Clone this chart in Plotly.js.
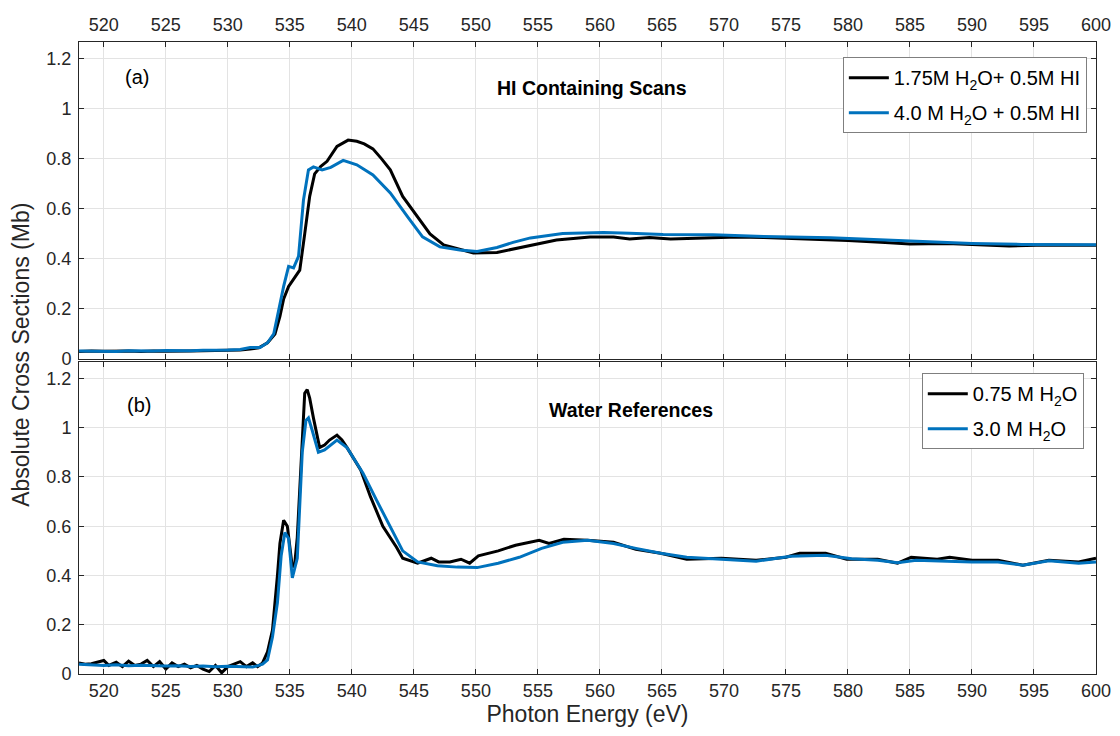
<!DOCTYPE html>
<html>
<head>
<meta charset="utf-8">
<script src="https://cdn.plot.ly/plotly-3.0.1.min.js"></script>
<style>html,body{margin:0;padding:0;background:#fff;}#chart{width:1120px;height:736px;}</style>
</head>
<body>
<div id="chart"></div>
<script>
// Panel (a): HI containing scans
const hiBlackX = [518,519,520,521,522,523,524,525,526,527,528,529,530,531,531.8,532.5,533.2,533.8,534.2,534.5,534.9,535.3,535.8,536.2,536.6,537.0,537.5,538.0,538.8,539.7,540.4,541.0,541.7,542.4,543.1,544.1,545.3,546.3,547.4,548.7,549.8,551.7,553,554.4,556.5,559.2,561.1,562.4,564,565.7,569.1,571.1,573.2,576,580,583,585,588,590,593,596,600];
const hiBlackY = [0.030,0.032,0.031,0.033,0.032,0.030,0.032,0.031,0.033,0.032,0.033,0.034,0.035,0.036,0.040,0.045,0.065,0.10,0.17,0.24,0.29,0.32,0.355,0.50,0.65,0.74,0.77,0.79,0.85,0.875,0.87,0.86,0.84,0.80,0.756,0.65,0.57,0.50,0.456,0.44,0.424,0.426,0.44,0.456,0.476,0.488,0.488,0.48,0.486,0.48,0.484,0.488,0.486,0.482,0.474,0.466,0.46,0.462,0.458,0.452,0.456,0.455];
const hiBlueX = [518,519,520,521,522,523,524,525,526,527,528,529,530,531,531.8,532.6,533.2,533.7,534.1,534.5,534.9,535.3,535.7,536.1,536.5,536.9,537.6,538.3,539.3,540.4,541.7,543.1,544.5,545.7,547.1,548.7,550.1,551.7,553,554.4,557,560.3,562.4,565.1,569.1,573.2,578.6,582,586,590,594,597,600];
const hiBlueY = [0.032,0.031,0.033,0.030,0.033,0.031,0.032,0.034,0.032,0.033,0.035,0.034,0.036,0.038,0.046,0.046,0.065,0.10,0.20,0.29,0.37,0.364,0.41,0.636,0.756,0.768,0.756,0.766,0.794,0.776,0.736,0.664,0.568,0.488,0.448,0.436,0.43,0.446,0.466,0.484,0.502,0.506,0.503,0.498,0.497,0.49,0.485,0.478,0.47,0.462,0.458,0.457,0.457];

// Panel (b): water references
const wBlackX = [518,518.5,519,519.5,520,520.4,521,521.5,522,522.5,523,523.5,524,524.5,525,525.5,526,526.5,527,527.5,528,528.5,529,529.5,530,530.5,531,531.5,532,532.4,532.8,533.2,533.6,534.0,534.2,534.5,534.8,535.2,535.4,535.6,536.0,536.2,536.4,536.6,536.9,537.4,537.8,538.2,538.8,539.2,539.6,540.2,540.7,541.5,542.5,543.6,544.1,545.3,546.4,547.0,547.9,548.8,549.5,550.2,551.8,553.2,555.1,555.9,557.1,559.0,561.1,562.9,564.9,567.0,569.8,572.6,575.0,576.1,578.2,579.9,582.4,584.0,585.1,587.2,588.2,590.0,592.1,594.1,596.2,598.6,600];
const wBlackY = [0.045,0.040,0.042,0.050,0.055,0.035,0.048,0.030,0.052,0.035,0.040,0.055,0.030,0.050,0.020,0.045,0.030,0.040,0.025,0.035,0.020,0.010,0.035,0.005,0.030,0.040,0.050,0.030,0.045,0.030,0.045,0.09,0.178,0.40,0.53,0.624,0.60,0.434,0.45,0.555,0.96,1.14,1.155,1.12,1.04,0.92,0.93,0.95,0.97,0.95,0.92,0.87,0.83,0.72,0.60,0.515,0.47,0.45,0.47,0.455,0.455,0.466,0.45,0.48,0.50,0.523,0.543,0.53,0.547,0.543,0.535,0.506,0.49,0.466,0.47,0.462,0.474,0.49,0.49,0.466,0.466,0.45,0.474,0.466,0.474,0.462,0.462,0.442,0.462,0.455,0.47];
const wBlueX = [518,519,520,521,522,523,524,525,526,527,528,529,530,531,532,532.8,533.2,533.6,534.0,534.3,534.6,534.9,535.2,535.6,536.0,536.3,536.5,536.8,537.3,537.8,538.3,538.8,539.6,540.9,542.0,543.1,544.1,545.3,546.9,548.5,550.1,551.8,553.5,555.3,557.0,559.0,561.1,562.9,564.9,567.0,569.8,572.6,575.4,578.2,580.3,582.4,584.0,585.5,588,590.0,592.1,594.1,596.2,598.6,600];
const wBlueY = [0.040,0.036,0.035,0.038,0.034,0.036,0.033,0.032,0.034,0.030,0.032,0.029,0.031,0.030,0.028,0.040,0.057,0.15,0.29,0.48,0.575,0.55,0.39,0.47,0.90,1.03,1.04,0.99,0.90,0.91,0.93,0.95,0.92,0.815,0.705,0.60,0.50,0.455,0.44,0.434,0.432,0.45,0.474,0.51,0.535,0.543,0.53,0.51,0.49,0.474,0.466,0.458,0.478,0.482,0.468,0.462,0.452,0.462,0.458,0.455,0.455,0.442,0.46,0.45,0.455];

const seriesNames = ['1.75M H<sub>2</sub>O+ 0.5M HI','4.0 M H<sub>2</sub>O + 0.5M HI','0.75 M H<sub>2</sub>O','3.0 M H<sub>2</sub>O'];
const xTicks = [520,525,530,535,540,545,550,555,560,565,570,575,580,585,590,595,600];
const yTicks = [0,0.2,0.4,0.6,0.8,1,1.2];
const yTickText = ['0','0.2','0.4','0.6','0.8','1','1.2'];

const BLACK = '#000000', BLUE = '#0072BD';
const FONT = 'Liberation Sans, Arial, sans-serif';

const traces = [
  {x: hiBlackX, y: hiBlackY, name: seriesNames[0], mode:'lines', line:{color:BLACK,width:3}, xaxis:'x', yaxis:'y', legend:'legend', legendgroup:'a1'},
  {x: hiBlueX, y: hiBlueY, name: seriesNames[1], mode:'lines', line:{color:BLUE,width:3}, xaxis:'x', yaxis:'y', legend:'legend', legendgroup:'a2'},
  {x: wBlackX, y: wBlackY, name: seriesNames[2], mode:'lines', line:{color:BLACK,width:3}, xaxis:'x2', yaxis:'y2', legend:'legend2', legendgroup:'b1'},
  {x: wBlueX, y: wBlueY, name: seriesNames[3], mode:'lines', line:{color:BLUE,width:3}, xaxis:'x2', yaxis:'y2', legend:'legend2', legendgroup:'b2'}
];

const axisCommon = {
  showline:true, linecolor:'#262626', linewidth:1, mirror:'ticks',
  ticks:'inside', ticklen:5, tickcolor:'#262626',
  showgrid:true, gridcolor:'#e3e3e3', gridwidth:1, zeroline:false,
  tickfont:{family:FONT, size:18, color:'#262626'}
};

const legendCommon = {xanchor:'right', yanchor:'top', bgcolor:'#ffffff', bordercolor:'#7f7f7f', borderwidth:1,
  traceorder:'grouped', tracegroupgap:6, itemwidth:40, font:{family:FONT, size:20, color:'#000000'}};

const layout = {
  width:1120, height:736,
  margin:{l:79, r:24, t:42, b:62},
  paper_bgcolor:'#ffffff', plot_bgcolor:'#ffffff',
  font:{family:FONT, color:'#262626'},
  xaxis: Object.assign({}, axisCommon, {range:[518,600], tickvals:xTicks, side:'top', anchor:'y', ticklabelstandoff:3}),
  yaxis: Object.assign({}, axisCommon, {range:[0,1.267], tickvals:yTicks, ticktext:yTickText, domain:[0.4984,1], anchor:'x', ticklabelstandoff:3}),
  xaxis2: Object.assign({}, axisCommon, {range:[518,600], tickvals:xTicks, side:'bottom', anchor:'y2', ticklabelstandoff:0,
    title:{text:'Photon Energy (eV)', font:{family:FONT, size:23, color:'#262626'}, standoff:6}}),
  yaxis2: Object.assign({}, axisCommon, {range:[0,1.267], tickvals:yTicks, ticktext:yTickText, domain:[0,0.4937], anchor:'x2', ticklabelstandoff:3}),
  legend: Object.assign({}, legendCommon, {x:0.991, y:0.976}),
  legend2: Object.assign({}, legendCommon, {x:0.988, y:0.476}),
  showlegend:true,
  annotations: [
    {text:'(a)', x:522.7, y:1.128, xref:'x', yref:'y', showarrow:false, font:{family:FONT, size:20, color:'#000'}},
    {text:'<b>HI Containing Scans</b>', x:559.4, y:1.084, xref:'x', yref:'y', showarrow:false, font:{family:FONT, size:19.5, color:'#000'}},
    {text:'(b)', x:522.8, y:1.094, xref:'x2', yref:'y2', showarrow:false, font:{family:FONT, size:20, color:'#000'}},
    {text:'<b>Water References</b>', x:562.5, y:1.074, xref:'x2', yref:'y2', showarrow:false, font:{family:FONT, size:19.5, color:'#000'}},
    {text:'Absolute Cross Sections (Mb)', xref:'paper', yref:'paper', x:-0.057, y:0.505, xanchor:'center', yanchor:'middle',
      textangle:-90, showarrow:false, font:{family:FONT, size:23, color:'#262626'}}
  ]
};

Plotly.newPlot('chart', traces, layout, {staticPlot:true, displayModeBar:false});
</script>
</body>
</html>
